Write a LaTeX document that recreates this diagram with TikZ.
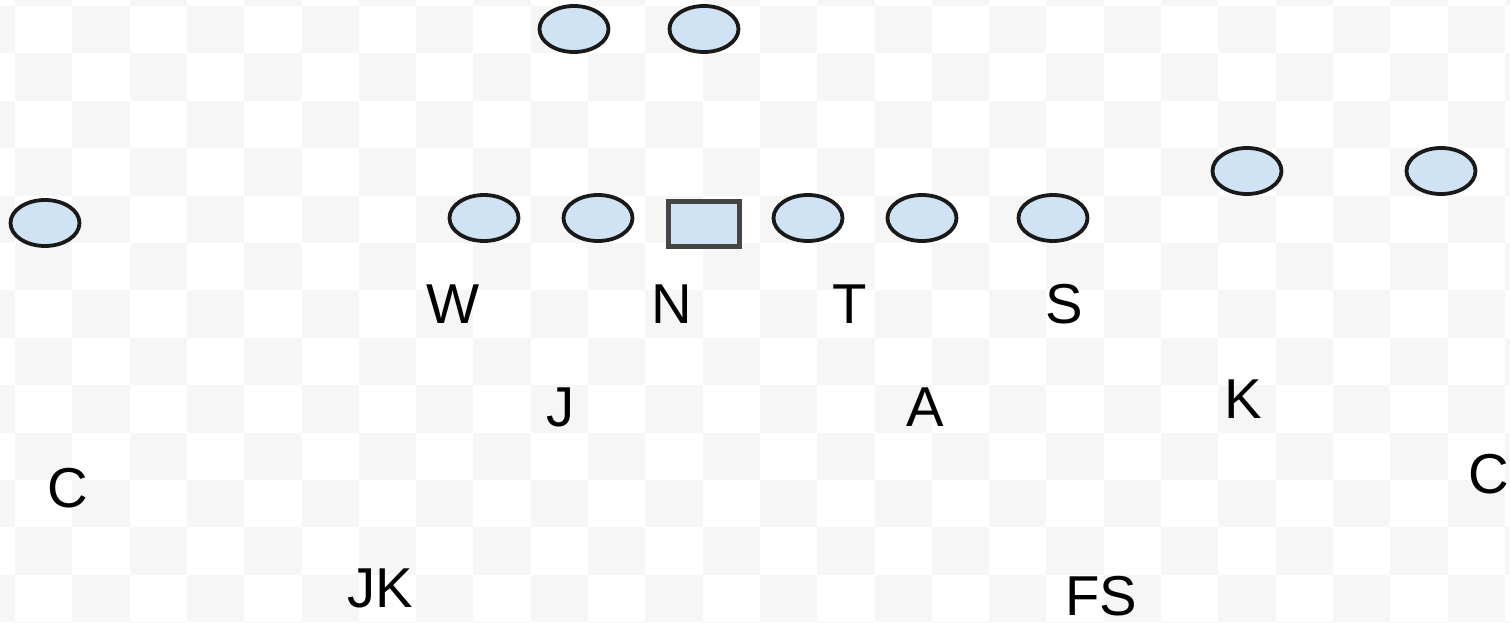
\documentclass[tikz,border=0pt]{standalone}
\usepackage{fontspec}
\setmainfont{Liberation Sans}
\usetikzlibrary{positioning,shapes.geometric}
\definecolor{cellgray}{rgb}{0.965,0.965,0.965}
\definecolor{playerblue}{rgb}{0.81,0.89,0.96}
\definecolor{centergray}{rgb}{0.27,0.27,0.27}
\tikzset{
  jugador/.style={
    ellipse,
    draw=black!90,
    fill=playerblue,
    line width=0.38mm,
    minimum width=6.9mm,
    minimum height=4.6mm,
    inner sep=0pt
  },
  centro/.style={
    rectangle,
    draw=centergray,
    fill=playerblue,
    line width=0.42mm,
    minimum width=7.1mm,
    minimum height=4.5mm,
    inner sep=0pt
  },
  defensa/.style={
    anchor=base,
    inner sep=0pt,
    font=\fontsize{16}{18}\selectfont
  }
}

\begin{document}
\begin{tikzpicture}[x=0.1mm,y=-0.1mm]
\useasboundingbox (0,0) rectangle (1510,623);
\clip (0,0) rectangle (1510,623);
% fondo a cuadros
\foreach \i in {0,...,27}
  \foreach \j in {0,...,14}{
    \pgfmathtruncatemacro{\celda}{mod(\i+\j,2)}
    \ifnum\celda=1
      \fill[cellgray] (-42.3+57.3*\i,-41.4+47.4*\j) rectangle ++(57.3,47.4);
    \fi
  }
% ataque
\node[jugador] (wrl) at (45,223) {};
\node[jugador] (b1) at (574,29) {};
\node[jugador] (b2) at (704,29) {};
\node[jugador] (ol1) at (484,218) {};
\node[jugador] (ol2) at (598,218) {};
\node[centro] (ctr) at (704,224) {};
\node[jugador] (ol3) at (808,218) {};
\node[jugador] (ol4) at (922,218) {};
\node[jugador] (te) at (1053,218) {};
\node[jugador] (slot) at (1247,171) {};
\node[jugador] (wrr) at (1441,171) {};
% defensa
\node[defensa] (dw) at (453,323) {W};
\node[defensa] (dn) at (672,323) {N};
\node[defensa] (dt) at (850,323) {T};
\node[defensa] (ds) at (1064,323) {S};
\node[defensa] (dj) at (561,426) {J};
\node[defensa] (da) at (925,426) {A};
\node[defensa] (dk) at (1243,418) {K};
\node[defensa] (dcl) at (68,507) {C};
\node[defensa] (dcr) at (1489,493) {C};
\node[defensa] (djk) at (380,607) {JK};
\node[defensa] (dfs) at (1101,615) {FS};
\end{tikzpicture}
\end{document}
